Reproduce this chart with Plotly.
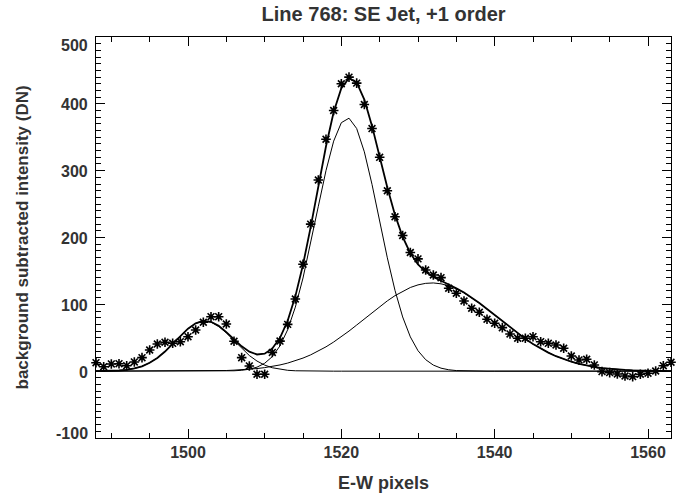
import plotly.graph_objects as go

# E-W pixel positions (integer pixels)
pixels = list(range(1488, 1564))

# measured background-subtracted intensity (DN), asterisks
intensity = [
    12.7, 6.7, 10.8, 11.2, 8.2, 13.8, 20.2, 31.7, 40.7, 43.2,      # 1488-1497
    41.7, 44.1, 51.6, 61.6, 73.2, 81.5, 81.5, 70.6, 44.7, 20.2,    # 1498-1507
    7.8, -4.6, -4.6, 28, 45, 70, 108, 160, 220, 286,                # 1508-1517
    347, 390, 430, 440, 431, 399, 363, 320, 270, 231,               # 1518-1527
    203, 177.5, 168, 151.4, 143.9, 139.9, 124, 116.6, 105, 94.1,    # 1528-1537
    88.1, 77.7, 71.7, 65.1, 55.7, 49.2, 49.2, 51.6, 44.1, 41.7,     # 1538-1547
    39.2, 34.3, 22.7, 16.8, 17.8, 9.3, -0.7, -2.2, -4.2, -7.2,      # 1548-1557
    -8.2, -4.6, -3.1, 0.3, 8.2, 13.3,                               # 1558-1563
]

# fitted component 1 (small blue-side bump)
comp1 = [
    0.1, 0.2, 0.4, 1.0, 2.0, 4.0, 7.3, 12.5, 19.8, 29.4,
    40.7, 52.6, 63.4, 71.4, 74.9, 73.4, 67.0, 57.2, 45.5, 33.8,
    23.4, 15.1, 9.1, 5.1, 2.7, 1.3, 0.6, 0.3, 0.1, 0.0,
    0, 0, 0, 0, 0, 0, 0, 0, 0, 0,
    0, 0, 0, 0, 0, 0, 0, 0, 0, 0,
    0, 0, 0, 0, 0, 0, 0, 0, 0, 0,
    0, 0, 0, 0, 0, 0, 0, 0, 0, 0,
    0, 0, 0, 0, 0, 0,
]

# fitted component 2 (main narrow line)
comp2 = [
    0, 0, 0, 0, 0, 0, 0, 0, 0, 0,
    0, 0, 0, 0, 0, 0, 0.1, 0.2, 0.6, 1.3,
    2.9, 6.0, 11.8, 21.8, 37.9, 62.0, 95.8, 139.4, 191.0, 246.7,
    300.2, 344.2, 371.8, 378.5, 363.1, 328.2, 279.5, 224.3, 169.6, 120.8,
    81.1, 51.3, 30.6, 17.2, 9.1, 4.5, 2.1, 0.9, 0.4, 0.2,
    0, 0, 0, 0, 0, 0, 0, 0, 0, 0,
    0, 0, 0, 0, 0, 0, 0, 0, 0, 0,
    0, 0, 0, 0, 0, 0,
]

# fitted component 3 (broad red-shifted component)
comp3 = [
    0, 0, 0, 0, 0, 0, 0, 0, 0, 0,
    0.1, 0.1, 0.1, 0.2, 0.3, 0.5, 0.7, 1.0, 1.5, 2.1,
    2.9, 3.9, 5.3, 7.1, 9.3, 12.1, 15.5, 19.6, 24.4, 30.0,
    36.4, 43.6, 51.5, 60.0, 69.0, 78.2, 87.5, 96.6, 105.2, 113.0,
    119.7, 125.2, 129.1, 131.4, 132.0, 130.7, 127.8, 123.2, 117.2, 109.9,
    101.8, 93.0, 83.8, 74.5, 65.3, 56.5, 48.3, 40.6, 33.8, 27.7,
    22.4, 17.9, 14.1, 10.9, 8.4, 6.3, 4.7, 3.5, 2.5, 1.8,
    1.3, 0.9, 0.6, 0.4, 0.3, 0.2,
]

# total fit (sum of the components)
total_fit = [
    0.1, 0.2, 0.4, 1.0, 2.0, 4.0, 7.3, 12.5, 19.8, 29.4,
    40.8, 52.7, 63.5, 71.6, 75.2, 73.9, 67.8, 58.5, 47.5, 37.2,
    29.2, 25.0, 26.2, 34.0, 49.9, 75.4, 111.9, 159.3, 215.5, 276.7,
    336.6, 387.8, 423.3, 438.5, 432.1, 406.4, 367.0, 320.9, 274.8, 233.8,
    200.8, 176.5, 159.7, 148.6, 141.1, 135.2, 129.9, 124.1, 117.6, 110.1,
    101.9, 93.0, 83.8, 74.5, 65.3, 56.5, 48.3, 40.6, 33.8, 27.7,
    22.4, 17.9, 14.1, 10.9, 8.4, 6.3, 4.7, 3.5, 2.5, 1.8,
    1.3, 0.9, 0.6, 0.4, 0.3, 0.2,
]

x_ticks = [1500, 1520, 1540, 1560]
x_ticklabels = ["1500", "1520", "1540", "1560"]
y_ticks = [-100, 0, 100, 200, 300, 400, 500]
y_ticklabels = ["-100", "0", "100", "200", "300", "400", "500"]

title_text = "Line 768: SE Jet, +1 order"
x_title = "E-W pixels"
y_title = "background subtracted intensity (DN)"

FONT = "Liberation Sans"
TXT = "#333333"

fig = go.Figure()
for comp in (comp1, comp2, comp3):
    fig.add_trace(go.Scatter(x=pixels, y=comp, mode="lines",
                             line=dict(color="black", width=1), hoverinfo="skip"))
fig.add_trace(go.Scatter(x=pixels, y=total_fit, mode="lines",
                         line=dict(color="black", width=1.8)))
fig.add_trace(go.Scatter(x=pixels, y=intensity, mode="markers", cliponaxis=False,
                         marker=dict(symbol="asterisk-open", size=8, color="black",
                                     line=dict(color="black", width=1.6))))

axis_common = dict(
    showgrid=False, zeroline=False, showline=True, linecolor="black", linewidth=1,
    mirror="ticks", ticks="inside", tickcolor="black", tickwidth=1, ticklen=9,
    tickfont=dict(family=FONT, size=16, color=TXT, weight="bold"),
)

# y tick labels as text annotations (IDL nudges the end labels inward)
label_font = dict(family=FONT, size=16, color=TXT, weight="bold")
y_label_annotations = []
for val, txt in zip(y_ticks, y_ticklabels):
    if val == y_ticks[-1]:
        shift = -8
    elif val == y_ticks[0]:
        shift = 5
    else:
        shift = -1
    y_label_annotations.append(dict(
        text=txt, xref="paper", yref="y", x=0, y=val, xanchor="right",
        yanchor="middle", xshift=-6, yshift=shift, showarrow=False, font=label_font))

fig.update_layout(
    width=685, height=494,
    margin=dict(l=96, r=14, t=37, b=56),
    paper_bgcolor="white", plot_bgcolor="white",
    showlegend=False,
    title=dict(text=title_text, x=0.56, xanchor="center", y=1 - 14 / 494, yanchor="middle",
               yref="container",
               font=dict(family=FONT, size=20, color=TXT, weight="bold")),
    xaxis=dict(range=[1488, 1563], tickvals=x_ticks, ticktext=x_ticklabels,
               minor=dict(dtick=5, tick0=1500, ticks="inside", ticklen=5, tickcolor="black"),
               **axis_common),
    yaxis=dict(range=[-100, 500], tickvals=y_ticks, showticklabels=False,
               minor=dict(dtick=10, tick0=0, ticks="inside", ticklen=5, tickcolor="black"),
               **axis_common),
    annotations=y_label_annotations + [
        dict(text=x_title, xref="paper", yref="paper", x=0.5, y=0, yanchor="top",
             xanchor="center", yshift=-33, showarrow=False,
             font=dict(family=FONT, size=18, color=TXT, weight="bold")),
        dict(text=y_title, xref="paper", yref="paper", x=0, y=0.5, xanchor="center",
             yanchor="middle", xshift=-74, textangle=-90, showarrow=False,
             font=dict(family=FONT, size=17, color=TXT, weight="bold")),
    ],
)

fig.write_html("out.html")
